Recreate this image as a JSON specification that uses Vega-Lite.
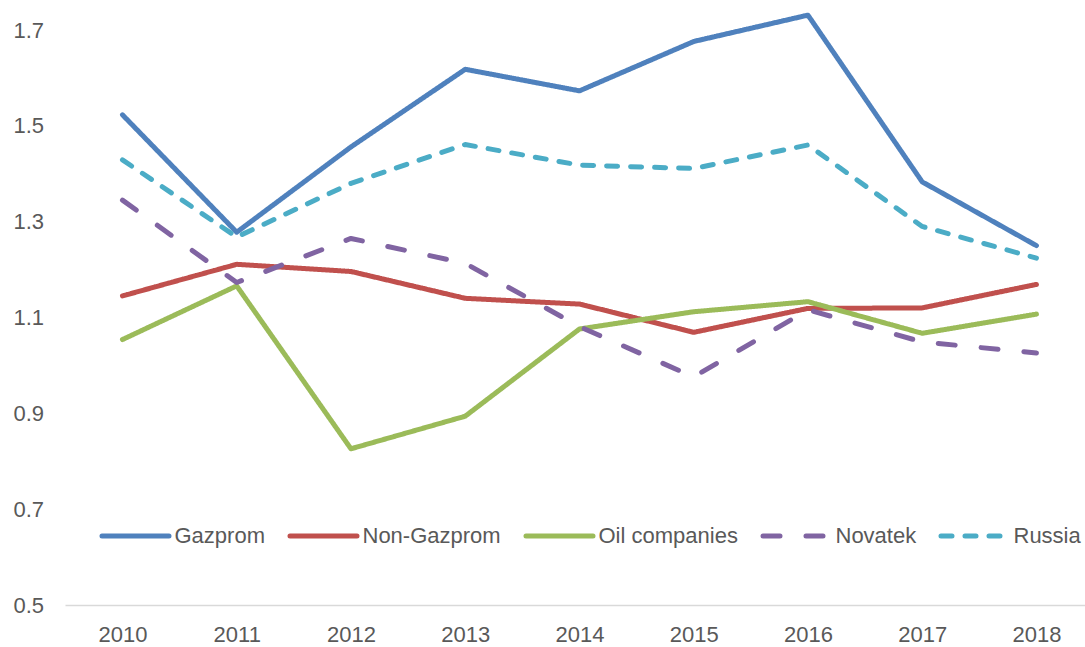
{
  "$schema": "https://vega.github.io/schema/vega-lite/v6.json",
  "autosize": {"type": "none"},
  "padding": {"left": 65, "top": 30, "right": 0, "bottom": 42},
  "width": 1020,
  "height": 575,
  "background": "white",
  "config": {
    "view": {"stroke": null},
    "font": "Liberation Sans, Arial, sans-serif"
  },
  "data": {
    "values": [
      {"year": 2010, "series": "Gazprom", "value": 1.523},
      {"year": 2011, "series": "Gazprom", "value": 1.278},
      {"year": 2012, "series": "Gazprom", "value": 1.456},
      {"year": 2013, "series": "Gazprom", "value": 1.618},
      {"year": 2014, "series": "Gazprom", "value": 1.573},
      {"year": 2015, "series": "Gazprom", "value": 1.676},
      {"year": 2016, "series": "Gazprom", "value": 1.731},
      {"year": 2017, "series": "Gazprom", "value": 1.383},
      {"year": 2018, "series": "Gazprom", "value": 1.25},
      {"year": 2010, "series": "Non-Gazprom", "value": 1.145},
      {"year": 2011, "series": "Non-Gazprom", "value": 1.211},
      {"year": 2012, "series": "Non-Gazprom", "value": 1.196},
      {"year": 2013, "series": "Non-Gazprom", "value": 1.14},
      {"year": 2014, "series": "Non-Gazprom", "value": 1.128},
      {"year": 2015, "series": "Non-Gazprom", "value": 1.069},
      {"year": 2016, "series": "Non-Gazprom", "value": 1.119},
      {"year": 2017, "series": "Non-Gazprom", "value": 1.12},
      {"year": 2018, "series": "Non-Gazprom", "value": 1.169},
      {"year": 2010, "series": "Oil companies", "value": 1.054},
      {"year": 2011, "series": "Oil companies", "value": 1.166},
      {"year": 2012, "series": "Oil companies", "value": 0.826},
      {"year": 2013, "series": "Oil companies", "value": 0.894},
      {"year": 2014, "series": "Oil companies", "value": 1.076},
      {"year": 2015, "series": "Oil companies", "value": 1.112},
      {"year": 2016, "series": "Oil companies", "value": 1.133},
      {"year": 2017, "series": "Oil companies", "value": 1.067},
      {"year": 2018, "series": "Oil companies", "value": 1.107},
      {"year": 2010, "series": "Novatek", "value": 1.345},
      {"year": 2011, "series": "Novatek", "value": 1.173},
      {"year": 2012, "series": "Novatek", "value": 1.265},
      {"year": 2013, "series": "Novatek", "value": 1.213},
      {"year": 2014, "series": "Novatek", "value": 1.081},
      {"year": 2015, "series": "Novatek", "value": 0.976},
      {"year": 2016, "series": "Novatek", "value": 1.116},
      {"year": 2017, "series": "Novatek", "value": 1.049},
      {"year": 2018, "series": "Novatek", "value": 1.026},
      {"year": 2010, "series": "Russia", "value": 1.429},
      {"year": 2011, "series": "Russia", "value": 1.268},
      {"year": 2012, "series": "Russia", "value": 1.38},
      {"year": 2013, "series": "Russia", "value": 1.461},
      {"year": 2014, "series": "Russia", "value": 1.418},
      {"year": 2015, "series": "Russia", "value": 1.411},
      {"year": 2016, "series": "Russia", "value": 1.46},
      {"year": 2017, "series": "Russia", "value": 1.29},
      {"year": 2018, "series": "Russia", "value": 1.224}
    ]
  },
  "mark": {"type": "line", "strokeWidth": 5, "strokeCap": "round", "strokeJoin": "round", "clip": false},
  "encoding": {
    "x": {
      "field": "year", "type": "quantitative",
      "scale": {"domain": [2009.497, 2018.425], "nice": false, "zero": false},
      "axis": {
        "title": null, "values": [2010, 2011, 2012, 2013, 2014, 2015, 2016, 2017, 2018],
        "format": "d", "grid": false, "ticks": false,
        "domainColor": "#D9D9D9", "domainWidth": 1.5,
        "labelFontSize": 22, "labelColor": "#595959", "labelPadding": 19
      }
    },
    "y": {
      "field": "value", "type": "quantitative",
      "scale": {"domain": [0.5, 1.7], "nice": false, "zero": false},
      "axis": {
        "title": null, "values": [0.5, 0.7, 0.9, 1.1, 1.3, 1.5, 1.7],
        "format": ".1f", "grid": false, "ticks": false, "domain": false,
        "labelAlign": "left", "labelPadding": 52,
        "labelFontSize": 22, "labelColor": "#595959"
      }
    },
    "color": {
      "field": "series", "type": "nominal",
      "scale": {
        "domain": ["Gazprom", "Non-Gazprom", "Oil companies", "Novatek", "Russia"],
        "range": ["#4F81BD", "#C0504D", "#9BBB59", "#8064A2", "#4BACC6"]
      },
      "legend": {
        "title": null, "orient": "none", "direction": "horizontal",
        "legendX": 34.5, "legendY": 470, "padding": 0,
        "symbolType": "stroke", "symbolSize": 4489, "symbolStrokeWidth": 5,
        "labelFontSize": 22, "labelColor": "#595959", "labelOffset": 3, "columnPadding": 14,
        "labelLimit": 400,
        "encode": {"symbols": {"update": {"strokeCap": {"value": "round"}}}}
      }
    },
    "strokeDash": {
      "field": "series", "type": "nominal",
      "scale": {
        "domain": ["Gazprom", "Non-Gazprom", "Oil companies", "Novatek", "Russia"],
        "range": [[1, 0], [1, 0], [1, 0], [17, 26], [11, 13]]
      },
      "legend": {
        "title": null, "orient": "none", "direction": "horizontal",
        "legendX": 34.5, "legendY": 470, "padding": 0,
        "symbolType": "stroke", "symbolSize": 4489, "symbolStrokeWidth": 5,
        "labelFontSize": 22, "labelColor": "#595959", "labelOffset": 3, "columnPadding": 14,
        "labelLimit": 400,
        "encode": {"symbols": {"update": {"strokeCap": {"value": "round"}}}}
      }
    }
  }
}
